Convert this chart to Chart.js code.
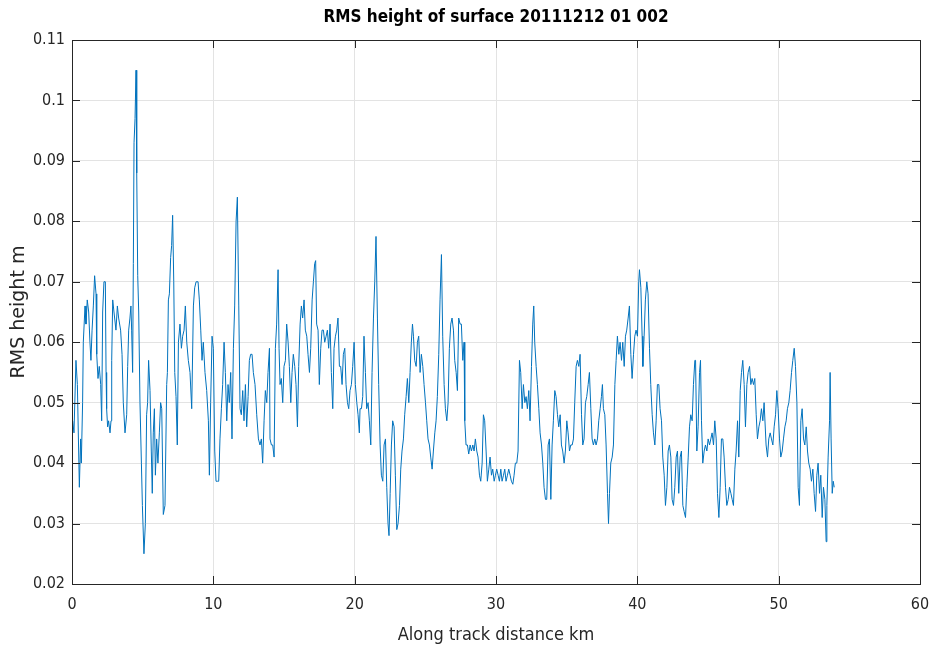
<!DOCTYPE html>
<html>
<head>
<meta charset="utf-8">
<script src="https://cdn.jsdelivr.net/npm/chart.js@4.4.1/dist/chart.umd.min.js"></script>
<style>
  html, body { margin: 0; padding: 0; background: #fff; }
  #wrap { width: 932px; height: 650px; }
</style>
</head>
<body>
<div id="wrap"><canvas id="rmsChart" width="932" height="650"></canvas></div>
<script>
// along track distance (km)
const distanceKm = [
  0.05,0.14,0.28,0.38,0.52,0.61,0.66,0.75,0.80,0.92,0.99,1.08,1.18,1.27,1.34,1.42,1.51,1.60,1.70,1.75,
  1.84,1.93,2.03,2.10,2.17,2.26,2.36,2.41,2.45,2.52,2.59,2.69,2.76,2.81,2.88,2.97,3.11,3.21,3.30,3.44,
  3.54,3.63,3.75,3.87,3.94,4.01,4.10,4.17,4.22,4.29,4.34,4.39,4.46,4.53,4.58,4.65,4.72,4.81,4.91,4.98,
  5.09,5.19,5.28,5.35,5.42,5.52,5.61,5.68,5.75,5.83,5.90,5.99,6.08,6.18,6.27,
  6.35,6.46,6.58,6.70,6.75,6.82,6.89,6.98,7.05,7.12,7.20,7.27,7.36,7.45,7.53,7.64,7.74,7.83,7.93,8.02,
  8.12,8.23,8.35,8.47,8.59,8.68,8.78,8.92,9.01,9.11,9.20,9.29,9.41,9.53,9.65,9.72,9.81,9.91,10.00,10.10,
  10.19,10.29,10.38,10.47,10.57,10.66,10.76,10.85,10.95,11.04,11.13,11.23,11.32,11.42,11.51,11.61,11.70,11.80,11.89,11.98,
  12.08,12.17,12.27,12.36,12.46,12.55,12.64,12.74,12.83,12.95,13.07,13.19,13.30,
  13.40,13.49,13.59,13.68,13.78,13.87,13.97,14.01,14.11,14.20,14.30,14.39,14.48,14.58,14.65,14.72,14.81,14.91,15.00,15.10,
  15.19,15.29,15.38,15.48,15.57,15.66,15.76,15.85,15.95,16.04,16.14,16.23,16.32,16.42,16.51,16.61,16.70,16.80,16.89,16.99,
  17.08,17.17,17.24,17.31,17.41,17.50,17.60,17.69,17.79,17.88,17.98,18.07,18.16,18.26,18.35,18.45,18.54,18.64,18.73,18.82,
  18.92,19.01,19.11,19.20,19.30,19.39,19.49,19.58,19.67,19.77,19.86,19.96,20.05,20.15,20.24,20.33,
  20.38,20.48,20.57,20.66,20.76,20.85,20.95,21.04,21.14,21.23,21.33,21.42,21.51,21.61,21.70,21.80,21.89,21.99,22.08,22.18,
  22.27,22.36,22.43,22.51,22.60,22.69,22.79,22.88,22.98,23.07,23.17,23.26,23.35,23.45,23.54,23.64,23.73,23.83,23.92,24.01,
  24.09,24.16,24.25,24.35,24.44,24.53,24.63,24.72,24.82,24.91,25.01,25.10,25.19,25.29,25.38,25.48,25.57,25.67,25.76,25.85,
  25.95,26.04,26.14,26.23,26.33,26.42,26.52,26.61,26.70,26.80,26.89,26.99,27.08,27.18,27.27,27.36,27.46,
  27.55,27.65,27.74,27.79,27.88,27.98,28.07,28.17,28.26,28.36,28.45,28.54,28.64,28.73,28.83,28.92,29.02,29.11,29.20,29.30,
  29.39,29.49,29.58,29.68,29.77,29.87,29.96,30.05,30.15,30.24,30.34,30.43,30.53,30.62,30.71,30.81,30.90,31.00,31.09,31.19,
  31.28,31.37,31.47,31.56,31.66,31.75,31.85,31.94,32.04,32.13,32.22,32.32,32.41,32.51,32.60,32.67,32.74,32.84,32.93,33.03,
  33.12,33.22,33.31,33.40,33.50,33.59,33.69,33.78,33.88,33.97,34.06,34.16,34.25,34.35,34.44,34.54,
  34.63,34.72,34.82,34.91,35.01,35.10,35.20,35.29,35.39,35.48,35.57,35.67,35.76,35.86,35.95,36.05,36.14,36.23,36.33,36.42,
  36.52,36.61,36.71,36.80,36.89,36.99,37.08,37.18,37.27,37.37,37.46,37.53,37.60,37.70,37.79,37.89,37.96,38.03,38.12,38.22,
  38.31,38.41,38.50,38.59,38.69,38.78,38.88,38.97,39.07,39.16,39.25,39.35,39.44,39.54,39.63,39.73,39.82,39.91,40.01,40.10,
  40.15,40.25,40.34,40.39,40.48,40.57,40.67,40.76,40.86,40.95,41.05,41.14,41.24,41.33,41.42,41.52,41.61,
  41.71,41.80,41.90,41.99,42.09,42.18,42.27,42.37,42.46,42.56,42.65,42.75,42.84,42.93,43.03,43.12,43.22,43.31,43.41,43.50,
  43.60,43.69,43.78,43.88,43.97,44.07,44.12,44.21,44.30,44.40,44.47,44.54,44.63,44.73,44.82,44.92,45.01,45.11,45.20,45.29,
  45.39,45.48,45.58,45.67,45.77,45.86,45.95,46.05,46.14,46.24,46.33,46.43,46.52,46.62,46.71,46.80,46.90,46.99,47.09,47.18,
  47.28,47.37,47.46,47.56,47.65,47.75,47.84,47.94,48.03,48.12,48.22,48.31,48.41,48.50,48.60,48.69,
  48.78,48.88,48.97,49.11,49.21,49.30,49.40,49.49,49.59,49.68,49.78,49.87,49.96,50.06,50.15,50.25,50.34,50.44,50.53,50.62,
  50.72,50.81,50.91,51.00,51.10,51.19,51.29,51.38,51.47,51.57,51.66,51.76,51.85,51.95,52.04,52.13,52.23,52.32,52.42,52.51,
  52.61,52.70,52.79,52.89,52.98,53.08,53.17,53.27,53.36,53.41,53.50,53.60,53.64,53.71,53.79,53.86,53.93
];

// RMS height (m)
const rmsHeight = [
  0.047,0.045,0.057,0.053,0.036,0.044,0.040,0.050,0.060,0.066,0.063,0.067,0.065,0.060,0.057,0.062,0.066,0.071,0.068,0.058,
  0.054,0.056,0.053,0.047,0.065,0.070,0.070,0.055,0.049,0.046,0.047,0.045,0.047,0.057,0.067,0.065,0.062,0.066,0.064,0.062,
  0.058,0.050,0.045,0.048,0.056,0.062,0.064,0.066,0.062,0.055,0.073,0.093,0.097,0.105,0.088,0.071,0.065,0.050,0.040,0.033,
  0.025,0.030,0.048,0.050,0.057,0.052,0.042,0.035,0.045,0.049,0.038,0.044,0.040,0.045,0.050,
  0.049,0.0315,0.033,0.053,0.055,0.067,0.068,0.074,0.076,0.081,0.070,0.055,0.051,0.043,0.060,0.063,0.059,0.061,0.062,0.066,
  0.060,0.057,0.055,0.049,0.066,0.069,0.070,0.070,0.067,0.062,0.057,0.060,0.055,0.052,0.047,0.038,0.050,0.061,0.059,0.042,
  0.037,0.037,0.037,0.044,0.049,0.053,0.060,0.055,0.047,0.053,0.050,0.055,0.044,0.059,0.066,0.080,0.084,0.066,0.049,0.048,
  0.052,0.047,0.053,0.046,0.051,0.057,0.058,0.058,0.055,0.053,0.048,0.044,0.043,
  0.044,0.040,0.047,0.052,0.050,0.055,0.059,0.044,0.043,0.043,0.041,0.059,0.063,0.072,0.059,0.053,0.054,0.050,0.056,0.057,
  0.063,0.060,0.056,0.050,0.055,0.058,0.056,0.053,0.046,0.056,0.063,0.066,0.064,0.067,0.062,0.061,0.058,0.055,0.059,0.067,
  0.070,0.073,0.0735,0.063,0.062,0.053,0.059,0.062,0.062,0.060,0.061,0.062,0.059,0.063,0.055,0.049,0.059,0.061,0.062,0.064,
  0.056,0.056,0.053,0.058,0.059,0.053,0.050,0.049,0.052,0.053,0.056,0.060,0.053,0.050,0.048,0.045,
  0.049,0.049,0.051,0.061,0.055,0.049,0.050,0.047,0.043,0.055,0.064,0.070,0.0775,0.064,0.053,0.043,0.038,0.037,0.043,0.044,
  0.036,0.030,0.028,0.035,0.043,0.047,0.046,0.038,0.029,0.030,0.033,0.039,0.042,0.044,0.048,0.051,0.054,0.050,0.055,0.060,
  0.063,0.061,0.057,0.056,0.060,0.061,0.055,0.058,0.056,0.053,0.050,0.047,0.044,0.043,0.041,0.039,0.042,0.045,0.047,0.051,
  0.058,0.067,0.0745,0.061,0.053,0.049,0.047,0.050,0.059,0.063,0.064,0.062,0.057,0.055,0.052,0.064,0.063,
  0.063,0.057,0.060,0.047,0.043,0.043,0.0415,0.043,0.042,0.043,0.042,0.044,0.042,0.041,0.038,0.037,0.040,0.048,0.047,0.042,
  0.037,0.039,0.041,0.038,0.039,0.037,0.038,0.039,0.038,0.037,0.039,0.037,0.038,0.039,0.037,0.038,0.039,0.038,0.037,0.0365,
  0.038,0.040,0.040,0.042,0.057,0.055,0.049,0.053,0.050,0.051,0.049,0.052,0.047,0.056,0.063,0.066,0.060,0.056,0.053,0.049,
  0.045,0.043,0.040,0.036,0.034,0.034,0.043,0.044,0.034,0.043,0.047,0.052,0.051,0.048,0.046,0.048,
  0.043,0.042,0.040,0.042,0.047,0.045,0.042,0.043,0.043,0.044,0.050,0.056,0.057,0.056,0.058,0.048,0.043,0.044,0.050,0.051,
  0.053,0.055,0.049,0.044,0.043,0.044,0.043,0.044,0.047,0.049,0.051,0.053,0.049,0.048,0.043,0.035,0.030,0.035,0.040,0.041,
  0.043,0.053,0.057,0.061,0.058,0.060,0.057,0.060,0.056,0.061,0.062,0.064,0.066,0.058,0.054,0.058,0.061,0.062,0.061,0.070,
  0.072,0.069,0.061,0.056,0.061,0.067,0.070,0.068,0.059,0.053,0.048,0.045,0.043,0.047,0.053,0.053,0.049,
  0.047,0.041,0.038,0.033,0.036,0.042,0.043,0.041,0.034,0.033,0.036,0.041,0.042,0.035,0.041,0.042,0.033,0.032,0.031,0.036,
  0.041,0.046,0.048,0.047,0.053,0.057,0.057,0.042,0.046,0.055,0.057,0.047,0.040,0.042,0.043,0.042,0.044,0.043,0.044,0.045,
  0.043,0.047,0.044,0.035,0.031,0.036,0.044,0.044,0.041,0.036,0.033,0.034,0.036,0.035,0.034,0.033,0.039,0.042,0.047,0.041,
  0.052,0.055,0.057,0.053,0.046,0.053,0.055,0.056,0.053,0.054,0.053,0.054,0.048,0.044,0.046,0.047,
  0.049,0.047,0.050,0.043,0.041,0.044,0.045,0.044,0.043,0.046,0.048,0.052,0.049,0.044,0.041,0.042,0.044,0.046,0.047,0.049,
  0.050,0.052,0.055,0.057,0.059,0.056,0.050,0.036,0.033,0.047,0.049,0.044,0.043,0.046,0.042,0.040,0.039,0.037,0.039,0.035,
  0.032,0.038,0.040,0.035,0.038,0.031,0.036,0.034,0.027,0.033,0.041,0.047,0.055,0.044,0.035,0.037,0.036
];

const xTicks = [0, 10, 20, 30, 40, 50, 60];
const yTicks = [0.02, 0.03, 0.04, 0.05, 0.06, 0.07, 0.08, 0.09, 0.1, 0.11];
const chartTitle = 'RMS height of surface 20111212 01 002';

const axisColor = '#262626';
const condensed = '"DejaVu Sans Condensed", "DejaVu Sans", sans-serif';
const tickFont = { family: condensed, size: 16 };

// box round the plot with inward ticks on all four sides, MATLAB style,
// and the title centred over the axes rather than the whole canvas
const boxPlugin = {
  id: 'matlabBox',
  afterDraw(chart) {
    const c = chart.ctx, a = chart.chartArea;
    const xs = chart.scales.x, ys = chart.scales.y;
    c.save();
    c.strokeStyle = axisColor;
    c.lineWidth = 1;
    c.strokeRect(a.left + 0.5, a.top + 0.5, a.right - a.left, a.bottom - a.top);
    c.beginPath();
    xTicks.forEach(v => {
      const px = Math.round(xs.getPixelForValue(v)) + 0.5;
      c.moveTo(px, a.bottom); c.lineTo(px, a.bottom - 8);
      c.moveTo(px, a.top); c.lineTo(px, a.top + 8);
    });
    yTicks.forEach(v => {
      const py = Math.round(ys.getPixelForValue(v)) + 0.5;
      c.moveTo(a.left, py); c.lineTo(a.left + 8, py);
      c.moveTo(a.right, py); c.lineTo(a.right - 8, py);
    });
    c.stroke();

    c.fillStyle = '#000';
    c.font = 'bold 17px ' + condensed;
    c.textAlign = 'center';
    c.textBaseline = 'middle';
    c.fillText(chartTitle, (a.left + a.right) / 2, 18);
    c.restore();
  }
};

const points = distanceKm.map((d, i) => ({ x: d, y: rmsHeight[i] }));

new Chart(document.getElementById('rmsChart').getContext('2d'), {
  type: 'line',
  data: {
    datasets: [{
      data: points,
      borderColor: '#0072BD',
      borderWidth: 1,
      pointRadius: 0,
      tension: 0,
      fill: false
    }]
  },
  options: {
    responsive: false,
    animation: false,
    layout: { padding: { left: 0, right: 12, top: 40, bottom: 0 } },
    plugins: {
      legend: { display: false },
      tooltip: { enabled: false },
      title: { display: false }
    },
    scales: {
      x: {
        type: 'linear',
        min: 0, max: 60,
        afterBuildTicks: s => { s.ticks = xTicks.map(v => ({ value: v })); },
        ticks: { color: axisColor, font: tickFont, padding: 11, maxRotation: 0 },
        grid: { color: '#e3e3e3', drawTicks: false },
        border: { display: false },
        title: {
          display: true,
          text: 'Along track distance km',
          color: axisColor,
          font: { family: condensed, size: 18 },
          padding: { top: 4, bottom: 4 }
        },
        afterFit: s => { s.height = 66; s.paddingLeft = 0; s.paddingRight = 0; }
      },
      y: {
        type: 'linear',
        min: 0.02, max: 0.11,
        afterBuildTicks: s => { s.ticks = yTicks.map(v => ({ value: v })); },
        ticks: {
          color: axisColor, font: tickFont, padding: 7,
          callback: v => String(Number(v.toFixed(2)))
        },
        grid: { color: '#e3e3e3', drawTicks: false },
        border: { display: false },
        title: {
          display: true,
          text: 'RMS height m',
          color: axisColor,
          font: { family: '"DejaVu Sans", sans-serif', size: 19 },
          padding: { top: 8, bottom: 0 }
        },
        afterFit: s => { s.width = 72; }
      }
    }
  },
  plugins: [boxPlugin]
});
</script>
</body>
</html>
